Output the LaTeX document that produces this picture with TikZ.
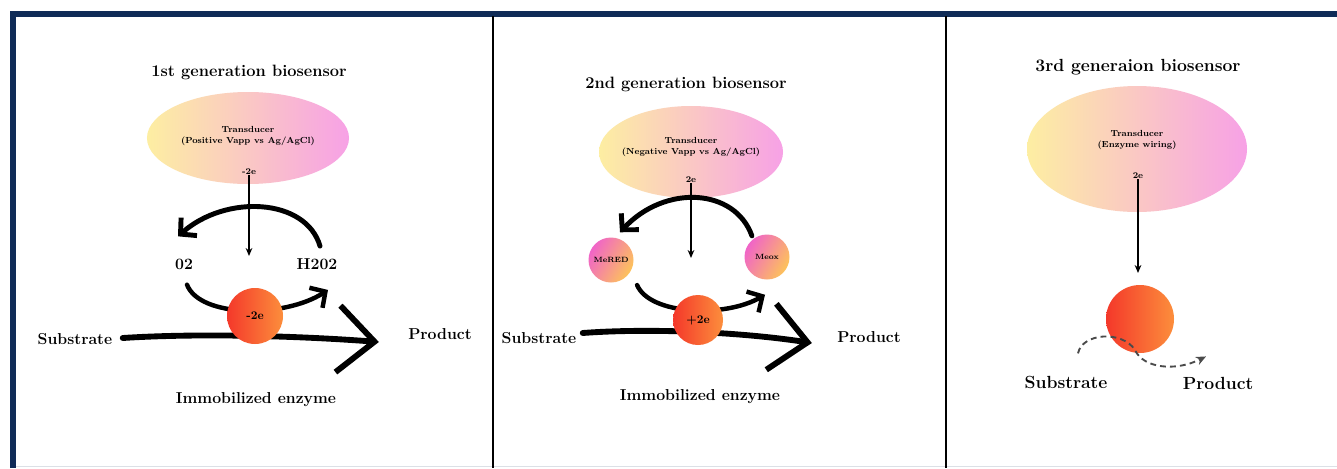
\documentclass[tikz,border=0pt]{standalone}
\usepackage{amsmath}
\usetikzlibrary{calc,positioning,arrows.meta,shapes.geometric}
\definecolor{framenavy}{HTML}{0F2B57}
\definecolor{transyellow}{HTML}{FDEEA2}
\definecolor{transpink}{HTML}{F7A1E6}
\definecolor{enzred}{HTML}{F4382A}
\definecolor{enzorange}{HTML}{FC8E3C}
\definecolor{medpink}{HTML}{F064C8}
\definecolor{medorange}{HTML}{FDC35A}
\definecolor{dashgray}{HTML}{4A4A4A}
\definecolor{edgegray}{HTML}{DCE0E6}
\newcommand{\brushtipstyle}{-{Straight Barb[length=3.4mm,width=7.2mm]}}
\newcommand{\bigtipstyle}{-{Straight Barb[length=11mm,width=20mm]}}
\newcommand{\ptrtipstyle}{-{Stealth[length=2.4mm,width=2mm]}}

\begin{document}
\begin{tikzpicture}[
    x=0.03cm, y=-0.03cm,
    font=\small,
    brush/.style={\brushtipstyle, line width=4.2pt, line cap=round, line join=round},
    bigbrush/.style={\bigtipstyle, line width=5pt, line cap=round, line join=round},
    ptr/.style={\ptrtipstyle, line width=1.5pt},
    dashpath/.style={-{Stealth[length=3mm,width=2.6mm]}, dashgray, line width=1.6pt, dash pattern=on 5pt off 3.5pt},
    tag/.style={font=\fontsize{13.5}{15}\selectfont\bfseries, inner sep=1pt},
    bigtag/.style={font=\fontsize{15}{17}\selectfont\bfseries, inner sep=1pt},
    headline/.style={font=\fontsize{14}{16}\selectfont\bfseries, inner sep=1pt},
    smalltxt/.style={font=\fontsize{7.5}{10}\selectfont\bfseries, align=center, inner sep=0pt},
    transducer/.style={ellipse, left color=transyellow, right color=transpink, inner sep=0pt},
    enzyme/.style={circle, left color=enzred, right color=enzorange, inner sep=0pt, font=\fontsize{10}{12}\selectfont\bfseries},
    mediator/.style={circle, left color=medpink, right color=medorange, shading angle=60, inner sep=0pt, minimum size=1.35cm, font=\fontsize{6.5}{8}\selectfont\bfseries},
    divider/.style={line width=0.08cm, black}
]
  \useasboundingbox[fill=white] (0,0) rectangle (1337,468);

  % frame and panel dividers
  \draw[edgegray, line width=0.03cm] (16,466) -- (1337,466);
  \draw[framenavy, line width=0.18cm, line join=miter] (13,468) -- (13,13.5) -- (1337,13.5);
  \draw[divider] (493,16) -- (493,468);
  \draw[divider] (946,16) -- (946,468);

  % panel 1
  \node[headline] (title-1) at (249,72) {1st generation biosensor};
  \node[transducer, minimum width=6.06cm, minimum height=2.76cm] (trans-1) at (248,138) {};
  \node[smalltxt] (transtxt-1) at (248,136) {Transducer\\(Positive Vapp vs Ag/AgCl)};
  \node[smalltxt] (elec-1) at (249,172) {-2e};
  \coordinate (drop-1) at (249,256);
  \draw[ptr] (elec-1.south) -- (drop-1);

  \node[tag] (o2-1) at (184,264) {02};
  \node[tag] (h2o2-1) at (317,264) {H202};
  \draw[brush] ([shift={(3,-11)}]h2o2-1.north) .. controls (306,198) and (226,194) .. ([shift={(-6,-21)}]o2-1.north);
  \draw[brush, line width=3.8pt] ([shift={(3,14)}]o2-1.south) .. controls (200,318) and (285,318) .. ([shift={(11,19)}]h2o2-1.south);

  \node[tag] (sub-1) at (75,339) {Substrate};
  \node[tag] (prod-1) at (440,334) {Product};
  \draw[bigbrush] ([shift={(9,-1)}]sub-1.east) .. controls (200,333) and (300,336) .. ([shift={(-28,8)}]prod-1.west);
  \node[enzyme, minimum size=1.68cm] (enz-1) at (255,316) {-2e};
  \node[tag] (immob-1) at (256,400) {Immobilized enzyme};

  % panel 2
  \node[headline] (title-2) at (686,84) {2nd generation biosensor};
  \node[transducer, minimum width=5.52cm, minimum height=2.76cm] (trans-2) at (691,152) {};
  \node[smalltxt] (transtxt-2) at (691,147) {Transducer\\(Negative Vapp vs Ag/AgCl)};
  \node[smalltxt] (elec-2) at (691,180) {2e};
  \coordinate (drop-2) at (691,258);
  \draw[ptr] (elec-2.south) -- (drop-2);

  \node[mediator] (medred-2) at (611,260) {MeRED};
  \node[mediator] (medox-2) at (767,257) {Meox};
  \draw[brush] ([shift={(1,-5)}]medox-2.north west) .. controls (735,188) and (665,184) .. ([shift={(9,-5)}]medred-2.north);
  \draw[brush, line width=3.8pt] ([shift={(10,9)}]medred-2.south east) .. controls (650,315) and (725,318) .. ([shift={(-2,15)}]medox-2.south);

  \node[tag] (sub-2) at (539,338) {Substrate};
  \node[tag] (prod-2) at (869,337) {Product};
  \draw[bigbrush] ([shift={(5,-5)}]sub-2.east) .. controls (650,328) and (740,332) .. ([shift={(-24,6)}]prod-2.west);
  \node[enzyme, minimum size=1.5cm] (enz-2) at (698,320) {+2e};
  \node[tag] (immob-2) at (700,397) {Immobilized enzyme};

  % panel 3
  \node[bigtag] (title-3) at (1138,67) {3rd generaion biosensor};
  \node[transducer, minimum width=6.6cm, minimum height=3.78cm] (trans-3) at (1137,149) {};
  \node[smalltxt] (transtxt-3) at (1137,140) {Transducer\\(Enzyme wiring)};
  \node[smalltxt] (elec-3) at (1138,176) {2e};
  \coordinate (drop-3) at (1138,273);
  \draw[ptr] (elec-3.south) -- (drop-3);

  \node[enzyme, minimum size=2.04cm] (enz-3) at (1140,319) {};
  \node[bigtag] (sub-3) at (1066,382) {Substrate};
  \node[bigtag] (prod-3) at (1218,383) {Product};
  \coordinate (in-3) at ([shift={(12,-21)}]sub-3.north);
  \coordinate (out-3) at ([shift={(-12,-19)}]prod-3.north);
  \draw[dashpath] (in-3) .. controls (1082,333) and (1122,330) .. (1135,350) .. controls (1143,368) and (1175,372) .. (out-3);
\end{tikzpicture}
\end{document}
